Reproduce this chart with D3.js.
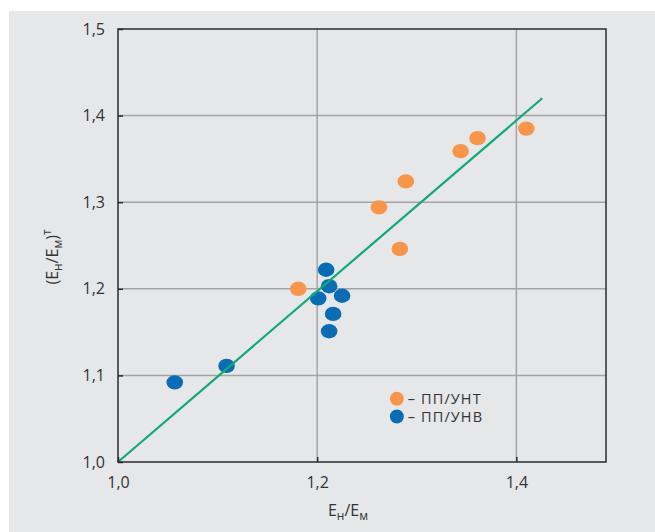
<!DOCTYPE html>
<html>
<head>
<meta charset="utf-8">
<script src="https://cdn.jsdelivr.net/npm/d3@7"></script>
<style>
  body { margin: 0; background: #fff; }
  text { font-family: "Open Sans", sans-serif; fill: #333; }
</style>
</head>
<body>
<svg width="655" height="532"></svg>
<script>
// ПП/УНТ (orange)
var untX = [1.181, 1.262, 1.289, 1.283, 1.344, 1.361, 1.410];
var untY = [1.200, 1.294, 1.324, 1.246, 1.359, 1.374, 1.385];
// ПП/УНВ (blue)
var unvX = [1.209, 1.212, 1.201, 1.225, 1.216, 1.212, 1.109, 1.057];
var unvY = [1.222, 1.203, 1.189, 1.192, 1.171, 1.151, 1.111, 1.092];
// reference line
var lineX = [1.0, 1.426];
var lineY = [1.0, 1.420];
var xTicks = [1.0, 1.2, 1.4];
var yTicks = [1.0, 1.1, 1.2, 1.3, 1.4, 1.5];
var legendLabels = ["– ПП/УНТ", "– ПП/УНВ"];

var orange = "#f7964b", blue = "#0a6cb5", green = "#12a878";

var svg = d3.select("svg"),
    margin = {left: 118, top: 29, right: 49, bottom: 70},
    width = +svg.attr("width") - margin.left - margin.right,
    height = +svg.attr("height") - margin.top - margin.bottom;

svg.append("rect")
    .attr("x", 9).attr("y", 11)
    .attr("width", 646).attr("height", 521)
    .attr("fill", "#e6e7e9");

var x = d3.scaleLinear().domain([1.0, 1.49]).range([0, width]);
var y = d3.scaleLinear().domain([1.0, 1.5]).range([height, 0]);

var comma = d3.formatLocale({decimal: ",", thousands: " ", grouping: [3], currency: ["", ""]}).format(".1f");

var g = svg.append("g")
    .attr("transform", "translate(" + margin.left + "," + margin.top + ")");

// grid
g.append("g").selectAll("line")
    .data(xTicks.slice(1))
  .enter().append("line")
    .attr("x1", d => x(d)).attr("x2", d => x(d))
    .attr("y1", 0).attr("y2", height)
    .attr("stroke", "#a3a3a5").attr("stroke-width", 1.5);

g.append("g").selectAll("line")
    .data(yTicks.slice(1, -1))
  .enter().append("line")
    .attr("y1", d => y(d)).attr("y2", d => y(d))
    .attr("x1", 0).attr("x2", width)
    .attr("stroke", "#a3a3a5").attr("stroke-width", 1.5);

// points
function dots(xs, ys, color) {
  g.append("g").selectAll("ellipse")
      .data(xs.map((d, i) => [d, ys[i]]))
    .enter().append("ellipse")
      .attr("cx", d => x(d[0]))
      .attr("cy", d => y(d[1]))
      .attr("rx", 8.3).attr("ry", 7.2)
      .attr("fill", color);
}
dots(untX, untY, orange);
dots(unvX, unvY, blue);

// reference line
g.append("path")
    .datum(lineX.map((d, i) => [d, lineY[i]]))
    .attr("d", d3.line().x(d => x(d[0])).y(d => y(d[1])))
    .attr("stroke", green).attr("stroke-width", 2.2).attr("fill", "none");

// axes, ticks inward
var xAxis = g.append("g")
    .attr("transform", "translate(0," + height + ")")
    .call(d3.axisBottom(x).tickValues(xTicks).tickSize(-5).tickPadding(15).tickFormat(comma));
var yAxis = g.append("g")
    .call(d3.axisLeft(y).tickValues(yTicks).tickSize(-5).tickPadding(13).tickFormat(comma));

[xAxis, yAxis].forEach(function(a) {
  a.select(".domain").remove();
  a.selectAll("line").attr("stroke", "#2b2b2b").attr("stroke-width", 1.5);
  a.selectAll("text").attr("font-size", 16).attr("font-family", "Open Sans").attr("fill", "#333");
});

g.append("rect")
    .attr("width", width).attr("height", height)
    .attr("fill", "none").attr("stroke", "#2b2b2b").attr("stroke-width", 1.5);

// legend
var legend = g.append("g")
    .attr("transform", "translate(" + (x(1.28) + 0) + "," + (y(1.073)) + ")");
var item = legend.selectAll("g")
    .data(legendLabels)
  .enter().append("g")
    .attr("transform", (d, i) => "translate(0," + i * 17.7 + ")");
item.append("circle")
    .attr("r", 7)
    .attr("fill", (d, i) => i === 0 ? orange : blue);
item.append("text")
    .attr("x", 11).attr("dy", "0.36em")
    .attr("font-family", "DejaVu Sans")
    .attr("font-size", 14.5)
    .attr("letter-spacing", 1.1)
    .text(d => d);

// axis titles
var xt = svg.append("text")
    .attr("x", 348).attr("y", 516)
    .attr("text-anchor", "middle")
    .attr("font-size", 16);
xt.append("tspan").text("E");
xt.append("tspan").attr("dy", 4).attr("font-size", 12).text("н");
xt.append("tspan").attr("dy", -4).text("/E");
xt.append("tspan").attr("dy", 4).attr("font-size", 12).text("м");

var yt = svg.append("text")
    .attr("transform", "translate(58,257) rotate(-90)")
    .attr("text-anchor", "middle")
    .attr("font-size", 16);
yt.append("tspan").text("(E");
yt.append("tspan").attr("dy", 4).attr("font-size", 12).text("н");
yt.append("tspan").attr("dy", -4).text("/E");
yt.append("tspan").attr("dy", 4).attr("font-size", 12).text("м");
yt.append("tspan").attr("dy", -4).text(")");
yt.append("tspan").attr("dy", -7).attr("font-size", 12).text("т");
</script>
</body>
</html>
